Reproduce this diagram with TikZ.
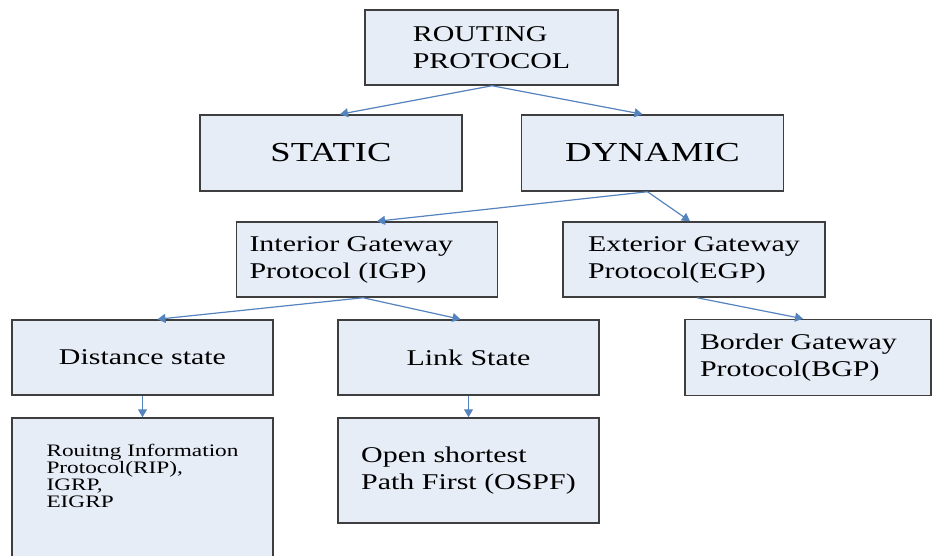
\documentclass[tikz,border=0pt]{standalone}
\usepackage{fontspec}
\setmainfont{Liberation Serif}[FakeStretch=1.33]
\usepackage{tikz}
\usetikzlibrary{positioning,arrows.meta}

\definecolor{boxfill}{HTML}{E7EDF7}
\definecolor{boxline}{HTML}{3E3E3E}
\definecolor{arrline}{HTML}{5583BE}

\begin{document}
\begin{tikzpicture}[x=1pt,y=1pt,on grid,
  box/.style={draw=boxline,line width=1.5pt,fill=boxfill,align=left,
    minimum width=261pt,minimum height=75pt,
    font=\fontsize{22.5}{27}\selectfont},
  bigbox/.style={box,minimum width=262pt,minimum height=76pt,
    font=\fontsize{27.5}{33}\selectfont},
  arr/.style={draw=arrline,line width=1.2pt,-{Triangle[length=8pt,width=9pt]}}]
\useasboundingbox (0,0) rectangle (936,-556);

\node[box, minimum width=253pt] (rp) at (491.5,-47.5) {ROUTING\\PROTOCOL};
\node[bigbox] (st) [below left=105.5 and 160.5 of rp] {STATIC};
\node[bigbox] (dy) [below right=105.5 and 161 of rp] {DYNAMIC};
\node[box, inner xsep=13pt, text width=235pt] (igp) [below left=106.5 and 285.5 of dy]
  {Interior Gateway\\Protocol (IGP)};
\node[box, minimum width=262pt] (egp) [below right=106.5 and 41.5 of dy] {Exterior Gateway\\Protocol(EGP)};
\node[box] (ds) [below left=98 and 224.5 of igp] {Distance state};
\node[box] (ls) [below right=98 and 101.5 of igp] {Link State};
\node[box, inner xsep=15pt, text width=216pt, minimum width=246pt, minimum height=76pt] (bgp)
  [below right=98 and 114 of egp] {Border Gateway\\Protocol(BGP)};
\node[box, minimum height=142pt, text depth=27pt,
  font=\fontsize{17.5}{17}\selectfont] (rip) [below=131.5 of ds]
  {Rouitng Information\\Protocol(RIP),\\IGRP,\\EIGRP};
\node[box, minimum height=105pt] (ospf) [below=113 of ls] {Open shortest\\Path First (OSPF)};

\path
([xshift=0.5pt]rp.south) edge [arr] ([xshift=9pt]st.north)
([xshift=0.5pt]rp.south) edge [arr] ([xshift=-10pt]dy.north)

([xshift=-5pt]dy.south) edge [arr] ([xshift=10pt]igp.north)
([xshift=-5pt]dy.south) edge [arr] ([xshift=-4pt]egp.north)

([xshift=-4pt]igp.south) edge [arr] ([xshift=15pt]ds.north)
([xshift=-4pt]igp.south) edge [arr] ([xshift=-8pt]ls.north)

([xshift=3pt]egp.south) edge [arr] ([xshift=-5pt]bgp.north)

(ds) edge [arr] (rip)
(ls) edge [arr] (ospf)
; %end path
\end{tikzpicture}
\end{document}
